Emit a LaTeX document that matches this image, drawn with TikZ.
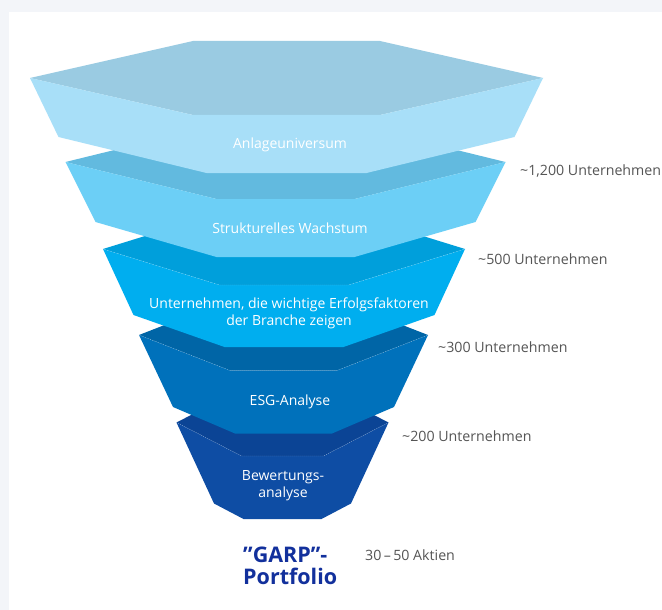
\documentclass[tikz,border=0pt]{standalone}
\usepackage{fontspec}
\setmainfont{Open Sans}
\usepackage{xcolor}
\usetikzlibrary{calc}

\definecolor{top1}{HTML}{9ACBE2}
\definecolor{front1}{HTML}{A8DFF8}
\definecolor{top2}{HTML}{62BADF}
\definecolor{front2}{HTML}{6CCFF6}
\definecolor{top3}{HTML}{009FDB}
\definecolor{front3}{HTML}{00AEEF}
\definecolor{top4}{HTML}{0065A6}
\definecolor{front4}{HTML}{0071BB}
\definecolor{top5}{HTML}{0B4495}
\definecolor{front5}{HTML}{0E4DA4}
\definecolor{garpblue}{HTML}{12309C}
\definecolor{countgray}{HTML}{555555}
\definecolor{pagegray}{HTML}{F3F5F9}

\tikzset{
  stagetext/.style = {text = white, align = center, inner sep = 0pt,
                      font = \fontsize{14}{17}\selectfont},
  tally/.style = {text = countgray, anchor = west, inner sep = 0pt,
                  font = \fontsize{14.2}{17}\selectfont},
  portfolio/.style = {text = garpblue, align = left, anchor = west, inner sep = 0pt,
                      font = \bfseries\fontsize{21.5}{22}\selectfont}
}

\begin{document}
\begin{tikzpicture}[x=1pt, y=-1pt]
		\useasboundingbox (0,0) rectangle (662,610);
		\fill [pagegray] (0,0) rectangle (662,610);
		\fill [white] (9,12) rectangle (662,610);
		
		%layers, from the bottom one up
		\foreach \n/\c/\yv/\w/\yf/\a/\yb/\wb/\yl/\al/\e in {
			5/282.5/422.5/106/456/41/503.5/68.5/519/39/1,
			4/283.5/335/144.5/370.5/53.5/407/110.5/433.5/48.5/1,
			3/284/249/181/285/64.5/315/150.5/347/59.5/1,
			2/285.5/162/220/199/69/222/190/257/69/0,
			1/286.5/78/256.5/115/93.5/137/228/173/80/0}{
			\fill [top\n] (\c-\w,\yv) -- (\c-\a,{2*\yv-\yf}) -- (\c+\a,{2*\yv-\yf})
				-- (\c+\w,\yv) -- (\c+\a,\yf) -- (\c-\a,\yf) -- cycle;
			\fill [front\n] (\c-\w,\yv) -- (\c-\a,\yf) -- (\c+\a,\yf) -- (\c+\w,\yv)
				-- (\c+\wb,\yb) -- (\c+\al,\yl) -- (\c-\al,\yl) -- (\c-\wb,\yb) -- cycle;
			\draw [white, opacity = {0.45*\e}, line width = 0.3pt, dash pattern = on 1pt off 1pt]
				(\c-\w,\yv) -- (\c-\a,\yf) -- (\c+\a,\yf) -- (\c+\w,\yv);
		}
		
		%stages
		\node [stagetext] (universe) at (290,145) {Anlageuniversum};
		\node [stagetext] (growth) at (290,228) {Strukturelles Wachstum};
		\node [stagetext] (success factors) at (289,313.5) {Unternehmen, die wichtige Erfolgsfaktoren\\der Branche zeigen};
		\node [stagetext] (esg) at (290,402) {ESG-Analyse};
		\node [stagetext] (valuation) at (283,486) {Bewertungs-\\analyse};
		
		%counts
		\node [tally] (count 1200) at (520,171) {\textasciitilde1,200 Unternehmen};
		\node [tally] (count 500) at (478,259) {\textasciitilde500 Unternehmen};
		\node [tally] (count 300) at (438,347) {\textasciitilde300 Unternehmen};
		\node [tally] (count 200) at (402,436) {\textasciitilde200 Unternehmen};
		
		\node [portfolio] (garp) at (243,566) {"GARP"-\\Portfolio};
		\node [tally] (stocks) at (365,555) {30\,--\,50 Aktien};
	\end{tikzpicture}
\end{document}
